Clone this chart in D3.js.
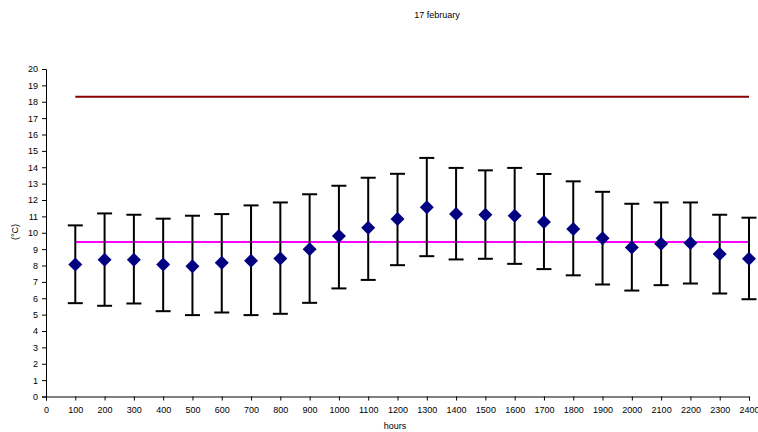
<!DOCTYPE html>
<html>
<head>
<meta charset="utf-8">
<script src="https://cdn.jsdelivr.net/npm/d3@7"></script>
<style>
  html, body { margin: 0; padding: 0; background: #fff; }
  svg { display: block; font-family: "Liberation Sans", Arial, sans-serif; }
</style>
</head>
<body>
<svg id="chart" width="758" height="432"></svg>
<script>
// Hourly temperature on 17 February: mean with min/max range
const hours = [100, 200, 300, 400, 500, 600, 700, 800, 900, 1000, 1100, 1200,
               1300, 1400, 1500, 1600, 1700, 1800, 1900, 2000, 2100, 2200, 2300, 2400];
const meanTemp = [8.06, 8.35, 8.35, 8.06, 7.96, 8.17, 8.29, 8.43, 9.0, 9.8, 10.3, 10.84,
                  11.55, 11.14, 11.1, 11.04, 10.65, 10.23, 9.67, 9.1, 9.33, 9.37, 8.7, 8.41];
const maxTemp = [10.45, 11.18, 11.1, 10.86, 11.04, 11.14, 11.67, 11.85, 12.35, 12.87, 13.36, 13.6,
                 14.57, 13.96, 13.81, 13.96, 13.59, 13.14, 12.5, 11.77, 11.85, 11.85, 11.1, 10.92];
const minTemp = [5.7, 5.54, 5.68, 5.21, 4.97, 5.13, 4.97, 5.05, 5.72, 6.6, 7.12, 8.02,
                 8.57, 8.37, 8.41, 8.1, 7.78, 7.4, 6.84, 6.47, 6.8, 6.9, 6.29, 5.94];
const upperLimit = 18.3;   // dark red reference level
const averageLevel = 9.43; // magenta daily average
const xTicks = d3.range(0, 2401, 100);
const yTicks = d3.range(0, 21, 1);

const svg = d3.select("#chart");
const x = d3.scaleLinear().domain([0, 2400]).range([46, 749]);
const y = d3.scaleLinear().domain([0, 20]).range([396.5, 69]);

// Axes
const xAxis = d3.axisBottom(x).tickValues(xTicks).tickFormat(d3.format("d")).tickSize(4).tickPadding(6);
const yAxis = d3.axisLeft(y).tickValues(yTicks).tickFormat(d3.format("d")).tickSize(4).tickPadding(4);

const gx = svg.append("g").attr("transform", `translate(0,${y(0)})`).call(xAxis);
const gy = svg.append("g").attr("transform", `translate(${x(0)},0)`).call(yAxis);
[gx, gy].forEach(g => {
  g.selectAll("path.domain").attr("stroke", "#000").attr("stroke-width", 1);
  g.selectAll(".tick line").attr("stroke", "#000");
  g.selectAll(".tick text").attr("font-size", 9).attr("fill", "#000")
    .attr("font-family", "Liberation Sans, Arial, sans-serif");
});

// Reference lines
svg.append("line")
  .attr("x1", x(hours[0])).attr("x2", x(hours[hours.length - 1]))
  .attr("y1", y(upperLimit)).attr("y2", y(upperLimit))
  .attr("stroke", "#8b0000").attr("stroke-width", 2);
svg.append("line")
  .attr("x1", x(hours[0])).attr("x2", x(hours[hours.length - 1]))
  .attr("y1", y(averageLevel)).attr("y2", y(averageLevel))
  .attr("stroke", "#ff00ff").attr("stroke-width", 2);

// Error bars
const data = hours.map((h, i) => ({ h, mean: meanTemp[i], max: maxTemp[i], min: minTemp[i] }));
const cap = 7.5;
const bars = svg.append("g").attr("stroke", "#000").attr("stroke-width", 2);
bars.selectAll("line.stem").data(data).join("line").attr("class", "stem")
  .attr("x1", d => x(d.h)).attr("x2", d => x(d.h))
  .attr("y1", d => y(d.min)).attr("y2", d => y(d.max));
bars.selectAll("line.top").data(data).join("line").attr("class", "top")
  .attr("x1", d => x(d.h) - cap).attr("x2", d => x(d.h) + cap)
  .attr("y1", d => y(d.max)).attr("y2", d => y(d.max));
bars.selectAll("line.bot").data(data).join("line").attr("class", "bot")
  .attr("x1", d => x(d.h) - cap).attr("x2", d => x(d.h) + cap)
  .attr("y1", d => y(d.min)).attr("y2", d => y(d.min));

// Diamond markers
const r = 7;
svg.append("g").selectAll("path").data(data).join("path")
  .attr("d", d => {
    const cx = x(d.h), cy = y(d.mean);
    return `M${cx},${cy - r}L${cx + r},${cy}L${cx},${cy + r}L${cx - r},${cy}Z`;
  })
  .attr("fill", "#000080");

// Titles
svg.append("text").attr("x", 437).attr("y", 18).attr("text-anchor", "middle")
  .attr("font-size", 9).text("17 february");
svg.append("text").attr("x", 395).attr("y", 429).attr("text-anchor", "middle")
  .attr("font-size", 9).text("hours");
svg.append("text").attr("transform", "translate(18,232) rotate(-90)")
  .attr("text-anchor", "middle").attr("font-size", 9).text("(°C)");
</script>
</body>
</html>
